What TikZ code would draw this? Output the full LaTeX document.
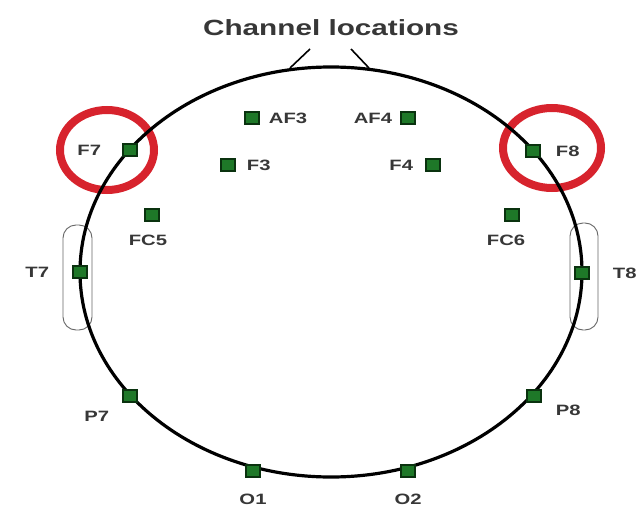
\documentclass[tikz,border=0pt]{standalone}
\usepackage{fontspec}
\usepackage{xcolor}
\usetikzlibrary{positioning}

\newfontfamily\headfont{Liberation Sans}[FakeStretch=1.35]

\definecolor{elecgreen}{RGB}{30,120,40}
\definecolor{elecdark}{RGB}{10,50,15}
\definecolor{labelgray}{RGB}{55,55,55}
\definecolor{ringred}{RGB}{215,35,45}

\tikzset{
    electrode/.style={draw=elecdark, fill=elecgreen, line width=1.4pt, minimum width=14pt, minimum height=12pt, inner sep=0pt},
    lbl/.style={text=labelgray, font=\headfont\bfseries\fontsize{15}{17}\selectfont, inner sep=0pt},
    ring/.style={draw=ringred, line width=8pt},
    ear/.style={draw=black!60, line width=0.9pt, rounded corners=13pt}
}

\begin{document}
\begin{tikzpicture}[x=1pt, y=-1pt]

    \useasboundingbox (0, 0) rectangle (636, 513);

    % Title
    \node[text=labelgray, font=\headfont\bfseries\fontsize{22}{25}\selectfont] (title) at (331, 28) {Channel locations};

    % Red rings round F7 and F8
    \draw[ring] (107, 150) ellipse [x radius=47pt, y radius=40pt];
    \draw[ring] (552, 148) ellipse [x radius=49pt, y radius=40pt];

    % Ears
    \draw[ear] (63, 225) rectangle (92, 330);
    \draw[ear] (570, 223) rectangle (598, 330);

    % Head and nose
    \draw[line width=3.2pt] (331, 272) ellipse [x radius=251pt, y radius=205pt];
    \coordinate (noseL) at (290, 68);
    \coordinate (noseR) at (369, 68);
    \draw[line width=1.6pt] (noseL) -- ++(20, -19);
    \draw[line width=1.6pt] (noseR) -- ++(-18, -19);

    % Electrodes
    \node[electrode] (af3) at (252, 118) {};
    \node[electrode] (af4) at (408, 118) {};
    \node[electrode] (f7) at (130, 150) {};
    \node[electrode] (f8) at (533, 151) {};
    \node[electrode] (f3) at (228, 165) {};
    \node[electrode] (f4) at (433, 165) {};
    \node[electrode] (fc5) at (152, 215) {};
    \node[electrode] (fc6) at (512, 215) {};
    \node[electrode] (t7) at (80, 272) {};
    \node[electrode] (t8) at (582, 273) {};
    \node[electrode] (p7) at (130, 396) {};
    \node[electrode] (p8) at (534, 396) {};
    \node[electrode] (o1) at (253, 471) {};
    \node[electrode] (o2) at (408, 471) {};

    % Labels
    \node[lbl, right=9pt of af3] (af3l) {AF3};
    \node[lbl, left=8pt of af4] (af4l) {AF4};
    \node[lbl, left=21pt of f7] (f7l) {F7};
    \node[lbl, right=15pt of f8] (f8l) {F8};
    \node[lbl, right=11pt of f3] (f3l) {F3};
    \node[lbl, left=12pt of f4] (f4l) {F4};
    \node[lbl, below=13pt of fc5, xshift=-4pt] (fc5l) {FC5};
    \node[lbl, below=13pt of fc6, xshift=-6pt] (fc6l) {FC6};
    \node[lbl, left=23pt of t7] (t7l) {T7};
    \node[lbl, right=23pt of t8] (t8l) {T8};
    \node[lbl, below left=8pt and 13pt of p7] (p7l) {P7};
    \node[lbl, below right=2pt and 14pt of p8] (p8l) {P8};
    \node[lbl, below=16pt of o1] (o1l) {O1};
    \node[lbl, below=16pt of o2] (o2l) {O2};

\end{tikzpicture}
\end{document}
